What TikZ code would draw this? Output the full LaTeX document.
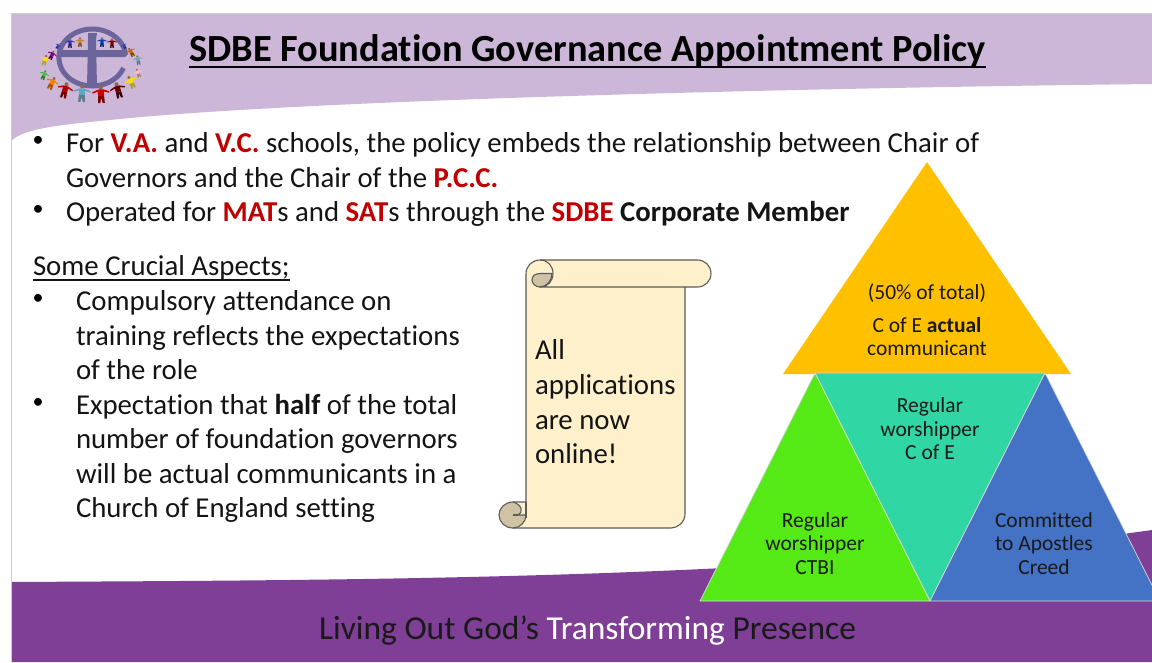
\documentclass[tikz,border=0pt]{standalone}
\usepackage{fontspec}
\setmainfont[Ligatures=NoCommon]{Carlito}
\definecolor{lav}{HTML}{CDB7D8}
\definecolor{purp}{HTML}{7F3F96}
\definecolor{redt}{HTML}{C00000}
\definecolor{logoc}{HTML}{6B659C}
\definecolor{parch}{HTML}{FFF0CC}
\definecolor{parchd}{HTML}{CFC2A5}
\definecolor{scrolll}{HTML}{5A5A5A}
\definecolor{tyellow}{HTML}{FFC000}
\definecolor{tgreen}{HTML}{55EA16}
\definecolor{tteal}{HTML}{30D6A4}
\definecolor{tblue}{HTML}{4472C4}
\definecolor{skin}{HTML}{8A6A55}
\newcommand{\rd}[1]{\textcolor{redt}{\textbf{#1}}}
\newcommand{\person}[5]{% x y rot scale colour
  \begin{scope}[shift={(#1,#2)},rotate=#3,scale=#4]
    \colorlet{pc}{#5}
    \fill[skin] (0,-6.6) circle (2.3);
    \fill[pc] (-8.5,-2.2) -- (-2.5,-4.6) -- (2.5,-4.6) -- (8.5,-2.2) -- (8.5,-0.8) -- (3,-2.4) -- (3,2) -- (-3,2) -- (-3,-2.4) -- (-8.5,-0.8) -- cycle;
    \fill[pc!65!black] (-3,2) -- (3,2) -- (3.4,9) -- (1.2,9) -- (0,4) -- (-1.2,9) -- (-3.4,9) -- cycle;
  \end{scope}}
\tikzset{
  body/.style={anchor=base west,inner sep=0pt,outer sep=0pt,font=\fontsize{28.8}{34}\selectfont,text=black!92},
  bul/.style={anchor=base,inner sep=0pt,outer sep=0pt,font=\fontsize{22}{26}\selectfont,text=black},
  tri/.style={draw=white!85!black,line width=0.7pt,line join=round},
  trilabel/.style={align=center,inner sep=0pt,font=\fontsize{21.5}{25}\selectfont,text=black!90},
  scrollline/.style={draw=scrolll,line width=1.1pt,line join=round}
}
\begin{document}
\begin{tikzpicture}[x=1pt,y=-1pt]
\useasboundingbox (0,0) rectangle (1152,662);
\clip (0,0) rectangle (1152,662);
\fill[white] (0,0) rectangle (1152,662);
% slide bands
\fill[lav] (11,13) -- (1152,13) -- (1152,84) .. controls (800,88) and (300,100) .. (110,120) .. controls (60,125) and (25,128) .. (11,141) -- cycle;
\fill[purp] (11,582) .. controls (350,580) and (800,580) .. (1152,530) -- (1152,662) -- (11,662) -- cycle;
\draw[black!20,line width=0.7pt] (11,662) -- (11,13) -- (1152,13);
% logo
\draw[logoc,line width=5pt] (123.5,68) arc[start angle=21.6,end angle=355,x radius=33.5,y radius=28.5];
\fill[logoc] (88,33) -- (97,33) -- (96,40) -- (97,87) -- (87,87) -- (88,40) -- cycle;
\fill[logoc] (61,50) -- (124,50) -- (127,55) -- (125,57) -- (59,57) -- cycle;
\person{70}{43}{0}{0.55}{blue!60!black!80}
\person{80}{42}{0}{0.55}{brown!80!orange}
\person{102}{42}{0}{0.55}{blue!50!teal}
\person{112}{43}{0}{0.55}{red!50!black}
\person{58}{46}{-30}{0.35}{blue!50!gray}
\person{52}{55}{-25}{0.55}{violet}
\person{45}{60}{-15}{0.6}{yellow!80!orange}
\person{44}{75}{-20}{0.55}{green!50!gray}
\person{52}{83}{-25}{0.75}{orange}
\person{65}{90}{-15}{0.9}{red!70!black}
\person{82}{93}{-3}{1}{cyan!50!gray}
\person{101}{94}{3}{1}{red!80!black}
\person{118}{90}{15}{0.9}{red!40!black}
\person{131}{82}{25}{0.75}{yellow!80!orange}
\person{138}{73}{20}{0.5}{pink}
\person{138}{60}{10}{0.55}{cyan!40!gray}
\person{131}{52}{30}{0.55}{orange!80!black}
\person{124}{46}{30}{0.35}{blue!50!gray}
% title
\node[anchor=base,inner sep=0pt] (title) at (587.5,61) {\fontsize{38.4}{42}\selectfont\textbf{SDBE Foundation Governance Appointment Policy}};
\coordinate (tl) at (189,67);
\coordinate (tr) at (986,67);
\draw[line width=2.6pt] (tl) -- (tr);
% bullets
\node[bul] (b1) at (38,146.5) {•};
\node[body] (l1) at (66,152) {For \rd{V.A.} and \rd{V.C.} schools, the policy embeds the relationship between Chair of};
\node[body] (l2) at (66,187) {Governors and the Chair of the \rd{P.C.C.}};
\node[bul] (b2) at (38,215.5) {•};
\node[body] (l3) at (66,221) {Operated for \rd{MAT}s and \rd{SAT}s through the \rd{SDBE} \textbf{Corporate Member}};
\node[body] (h) at (33,275) {Some Crucial Aspects;};
\coordinate (hl) at (33,280);
\coordinate (hr) at (289.5,280);
\draw[line width=1.5pt,black!92] (hl) -- (hr);
\node[bul] (b3) at (38,304.5) {•};
\node[body] (s1) at (76,310) {Compulsory attendance on};
\node[body] (s2) at (76,345) {training reflects the expectations};
\node[body] (s3) at (76,379) {of the role};
\node[bul] (b4) at (38,408.5) {•};
\node[body] (s4) at (76,414) {Expectation that \textbf{half} of the total};
\node[body] (s5) at (76,448) {number of foundation governors};
\node[body] (s6) at (76,483) {will be actual communicants in a};
\node[body] (s7) at (76,517) {Church of England setting};
% scroll
\path[fill=parch,scrollline] (540,260) -- (697.5,260) .. controls (705,260) and (711,266) .. (711,273.5) .. controls (711,281) and (705,287) .. (697.5,287) -- (685,287) -- (685,514) .. controls (685,522) and (678,528) .. (671,528) -- (513,528) -- (513,502) -- (526,502) -- (526,274) .. controls (526,266) and (532,260) .. (540,260) -- cycle;
\draw[scrollline] (526,502) -- (526,518);
\path[fill=parchd,scrollline] (513,502) .. controls (505,502) and (499,508) .. (499,515) .. controls (499,522) and (505,528) .. (513,528) .. controls (520,528) and (526,522) .. (526,515) -- (518,515) .. controls (523,513) and (523,505) .. (513,502) -- cycle;
\draw[scrollline] (513,515) -- (518,515);
\path[fill=parchd,scrollline] (540,287) .. controls (535,287) and (532,283) .. (532,280) .. controls (532,276) and (535,273.5) .. (540,273.5) -- (552,273.5) .. controls (552,280) and (547,287) .. (540,287) -- cycle;
\draw[scrollline] (540,260) .. controls (548,260) and (553,266) .. (553,273.5) .. controls (553,281) and (548,287) .. (540,287) -- (685,287);
\node[body] (sc1) at (535,359) {All};
\node[body] (sc2) at (535,394) {applications};
\node[body] (sc3) at (535,429) {are now};
\node[body] (sc4) at (535,463) {online!};
% footer
\node[anchor=base,inner sep=0pt,font=\fontsize{33.5}{38}\selectfont,text=black!90] (foot) at (587.5,639) {Living Out God’s \textcolor{white}{Transforming} Presence};
% triangles
\path[fill=tyellow] (927,162) -- (1071,374) -- (783,374) -- cycle;
\path[tri,fill=tteal] (815,373) -- (1045,373) -- (930,601) -- cycle;
\path[tri,fill=tgreen] (815,373) -- (930,601) -- (700,601) -- cycle;
\path[tri,fill=tblue] (1045,373) -- (1160,601) -- (930,601) -- cycle;
\node[trilabel,anchor=base] (y1) at (927,299.5) {(50\% of total)};
\node[trilabel,anchor=base] (y2) at (927,332.5) {C of E \textbf{actual}};
\node[trilabel,anchor=base] (y3) at (927,355.5) {communicant};
\node[trilabel,anchor=base] (g1) at (815,527.5) {Regular};
\node[trilabel,anchor=base] (g2) at (815,550.5) {worshipper};
\node[trilabel,anchor=base] (g3) at (815,574.5) {CTBI};
\node[trilabel,anchor=base] (t1) at (930,412.5) {Regular};
\node[trilabel,anchor=base] (t2) at (930,436.5) {worshipper};
\node[trilabel,anchor=base] (t3) at (930,459.5) {C of E};
\node[trilabel,anchor=base] (c1) at (1044,527.5) {Committed};
\node[trilabel,anchor=base] (c2) at (1044,550.5) {to Apostles};
\node[trilabel,anchor=base] (c3) at (1044,574.5) {Creed};
\end{tikzpicture}
\end{document}
